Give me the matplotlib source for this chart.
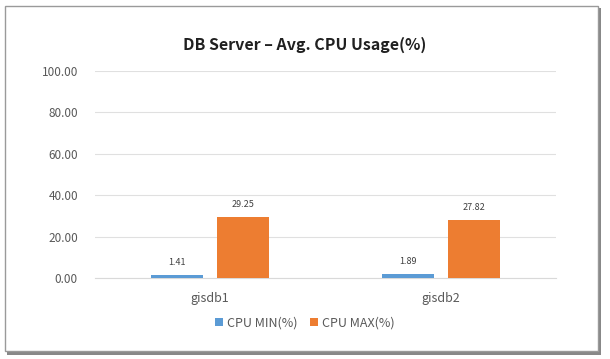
import numpy as np
import matplotlib.pyplot as plt
from matplotlib.patches import Rectangle

plt.rcParams['font.family'] = ['Noto Sans CJK KR', 'DejaVu Sans']

servers = ['gisdb1', 'gisdb2']
cpu_min = [1.41, 1.89]
cpu_max = [29.25, 27.82]
series_names = ['CPU MIN(%)', 'CPU MAX(%)']

fig = plt.figure(figsize=(6.1, 3.59), dpi=100)

# outer frame with shadow
fig.patches.append(Rectangle((0.012, 0.01), 0.974, 0.968, transform=fig.transFigure,
                             facecolor='#888888', edgecolor='none', zorder=-2))
fig.patches.append(Rectangle((0.008, 0.022), 0.972, 0.962, transform=fig.transFigure,
                             facecolor='white', edgecolor='#9a9a9a', lw=1, zorder=-1))

ax = fig.add_axes([0.155, 0.2256, 0.757, 0.5764])
ax.set_zorder(2)
ax.patch.set_alpha(0)
x = np.arange(len(servers))
w = 0.228
off = 0.143
b1 = ax.bar(x - off, cpu_min, w, color='#5B9BD5', label=series_names[0], zorder=3)
b2 = ax.bar(x + off, cpu_max, w, color='#ED7D31', label=series_names[1], zorder=3)

for bars in (b1, b2):
    for bar in bars:
        h = bar.get_height()
        ax.text(bar.get_x() + bar.get_width() / 2, h + 4, f"{h:.2f}",
                ha='center', va='bottom', fontsize=6.5, color='#404040')

ax.set_xlim(-0.5, 1.5)
ax.set_ylim(0, 100)
ax.set_yticks(np.arange(0, 101, 20))
ax.set_yticklabels([f"{v:.2f}" for v in range(0, 101, 20)], fontsize=8.5, color='#595959')
ax.set_xticks(x)
ax.set_xticklabels(servers, fontsize=9, color='#595959')
ax.tick_params(axis='both', length=0)
ax.tick_params(axis='x', pad=10)
ax.tick_params(axis='y', pad=12)
ax.grid(axis='y', color='#E0E0E0', lw=0.8, zorder=0)
for s in ['top', 'right', 'left']:
    ax.spines[s].set_visible(False)
ax.spines['bottom'].set_color('#D9D9D9')

fig.text(0.5, 0.875, 'DB Server – Avg. CPU Usage(%)', ha='center', va='center',
         fontsize=11.5, fontweight='bold', color='#202020')

leg = fig.legend(handles=[b1, b2], labels=series_names, loc='center', bbox_to_anchor=(0.5, 0.1),
                 ncol=2, frameon=False, fontsize=9, handlelength=0.65, handleheight=0.65,
                 handletextpad=0.3, columnspacing=1.0, labelcolor='#595959')
leg.set_zorder(3)

plt.savefig('out.png', dpi=100)
